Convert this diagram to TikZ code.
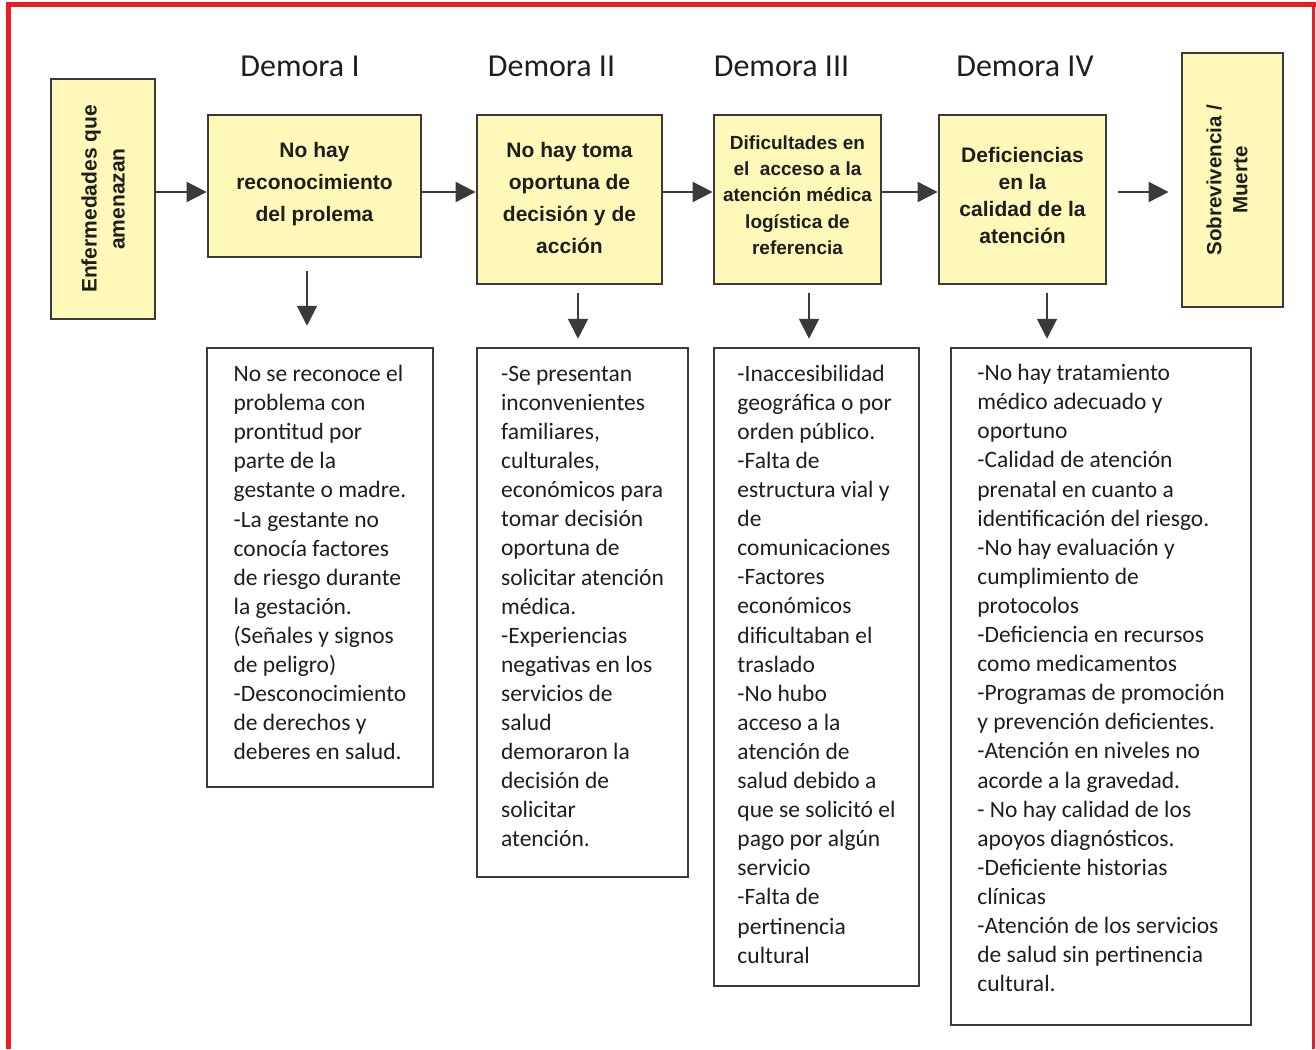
\documentclass[tikz,border=0pt]{standalone}
\usepackage{fontspec}
\setmainfont{Carlito}
\newfontfamily\cajafont{Liberation Sans}
\usetikzlibrary{arrows.meta}
\definecolor{amarillo}{HTML}{FFF8B8}
\definecolor{rojo}{HTML}{ED1C24}
\definecolor{borde}{HTML}{3A3A3A}
\definecolor{texto}{HTML}{1E1E1E}
\tikzset{
  demora/.style={rectangle,draw=borde,line width=2.8pt,fill=amarillo,inner sep=0pt,align=center,text=texto},
  detalle/.style={rectangle,draw=borde,line width=2.5pt,fill=white,inner sep=0pt,align=left,text=texto,font=\fontsize{23.5}{29.1}\selectfont},
  titulo/.style={text=texto,font=\fontsize{32}{36}\selectfont},
  flecha/.style={draw=borde,line width=2pt,-{Triangle[length=20pt,width=20pt]}}
}
\begin{document}
\begin{tikzpicture}[x=1pt,y=-1pt]
\useasboundingbox (0,0) rectangle (1316,1049);
\draw[rojo,line width=5pt] (8.5,1049) -- (8.5,4.5) -- (1316,4.5);
\draw[rojo,line width=2.5pt] (1313.5,4.5) -- (1313.5,1049);

\node[titulo] (t1) at (300,66) {Demora I};
\node[titulo] (t2) at (551.5,66) {Demora II};
\node[titulo] (t3) at (781.5,66) {Demora III};
\node[titulo] (t4) at (1025,66) {Demora IV};

\node[demora,rotate=90,minimum width=240pt,minimum height=104pt,font=\cajafont\bfseries\fontsize{21}{28}\selectfont] (enf) at (103,199) {Enfermedades que\\amenazan};
\node[demora,minimum width=213pt,minimum height=142pt,text depth=9pt,font=\cajafont\bfseries\fontsize{21}{32}\selectfont] (d1) at (314.5,186) {No hay\\reconocimiento\\del prolema};
\node[demora,minimum width=185pt,minimum height=169pt,text depth=3pt,font=\cajafont\bfseries\fontsize{21}{32}\selectfont] (d2) at (569.5,199.5) {No hay toma\\oportuna de\\decisión y de\\acción};
\node[demora,minimum width=167pt,minimum height=169pt,text depth=9pt,font=\cajafont\bfseries\fontsize{19}{26.25}\selectfont] (d3) at (797.5,199.5) {Dificultades en\\el\ \ acceso a la\\atención médica\\logística de\\referencia};
\node[demora,minimum width=167pt,minimum height=169pt,text depth=9pt,font=\cajafont\bfseries\fontsize{21}{27}\selectfont] (d4) at (1022.5,199.5) {Deficiencias\\en la\\calidad de la\\atención};
\node[demora,rotate=90,minimum width=254pt,minimum height=101pt,text depth=11pt,font=\cajafont\bfseries\fontsize{20.6}{26}\selectfont] (sob) at (1232.5,180) {Sobrevivencia /\\Muerte};

\coordinate (eje) at (0,192);
\draw[flecha] (enf.south |- eje) -- (d1.west |- eje);
\draw[flecha] (d1.east |- eje) -- (d2.west |- eje);
\draw[flecha] (d2.east |- eje) -- (d3.west |- eje);
\draw[flecha] (d3.east |- eje) -- (d4.west |- eje);
\draw[flecha,shorten <=11pt,shorten >=12pt] (d4.east |- eje) -- (sob.north |- eje);

\node[detalle,minimum width=226pt,minimum height=439pt,text depth=10pt] (c1) at (320,567.5) {No se reconoce el\\problema con\\prontitud por\\parte de la\\gestante o madre.\\-La gestante no\\conocía factores\\de riesgo durante\\la gestación.\\(Señales y signos\\de peligro)\\-Desconocimiento\\de derechos y\\deberes en salud.};
\node[detalle,minimum width=211pt,minimum height=529pt,text depth=12pt] (c2) at (582.5,612.5) {-Se presentan\\inconvenientes\\familiares,\\culturales,\\económicos para\\tomar decisión\\oportuna de\\solicitar atención\\médica.\\-Experiencias\\negativas en los\\servicios de\\salud\\demoraron la\\decisión de\\solicitar\\atención.};
\node[detalle,minimum width=205pt,minimum height=638pt,text depth=6pt] (c3) at (816.5,667) {-Inaccesibilidad\\geográfica o por\\orden público.\\-Falta de\\estructura vial y\\de\\comunicaciones\\-Factores\\económicos\\dificultaban el\\traslado\\-No hubo\\acceso a la\\atención de\\salud debido a\\que se solicitó el\\pago por algún\\servicio\\-Falta de\\pertinencia\\cultural};
\node[detalle,minimum width=300pt,minimum height=677pt,text depth=17pt] (c4) at (1101,686.5) {-No hay tratamiento\\médico adecuado y\\oportuno\\-Calidad de atención\\prenatal en cuanto a\\identificación del riesgo.\\-No hay evaluación y\\cumplimiento de\\protocolos\\-Deficiencia en recursos\\como medicamentos\\-Programas de promoción\\y prevención deficientes.\\-Atención en niveles no\\acorde a la gravedad.\\- No hay calidad de los\\apoyos diagnósticos.\\-Deficiente historias\\clínicas\\-Atención de los servicios\\de salud sin pertinencia\\cultural.};

\coordinate (f1) at (307,0);
\coordinate (f2) at (578,0);
\coordinate (f3) at (809,0);
\coordinate (f4) at (1047,0);
\draw[flecha,shorten <=13pt,shorten >=21pt] (d1.south -| f1) -- (c1.north -| f1);
\draw[flecha,shorten <=8pt,shorten >=8pt] (d2.south -| f2) -- (c2.north -| f2);
\draw[flecha,shorten <=8pt,shorten >=8pt] (d3.south -| f3) -- (c3.north -| f3);
\draw[flecha,shorten <=8pt,shorten >=8pt] (d4.south -| f4) -- (c4.north -| f4);
\end{tikzpicture}
\end{document}
